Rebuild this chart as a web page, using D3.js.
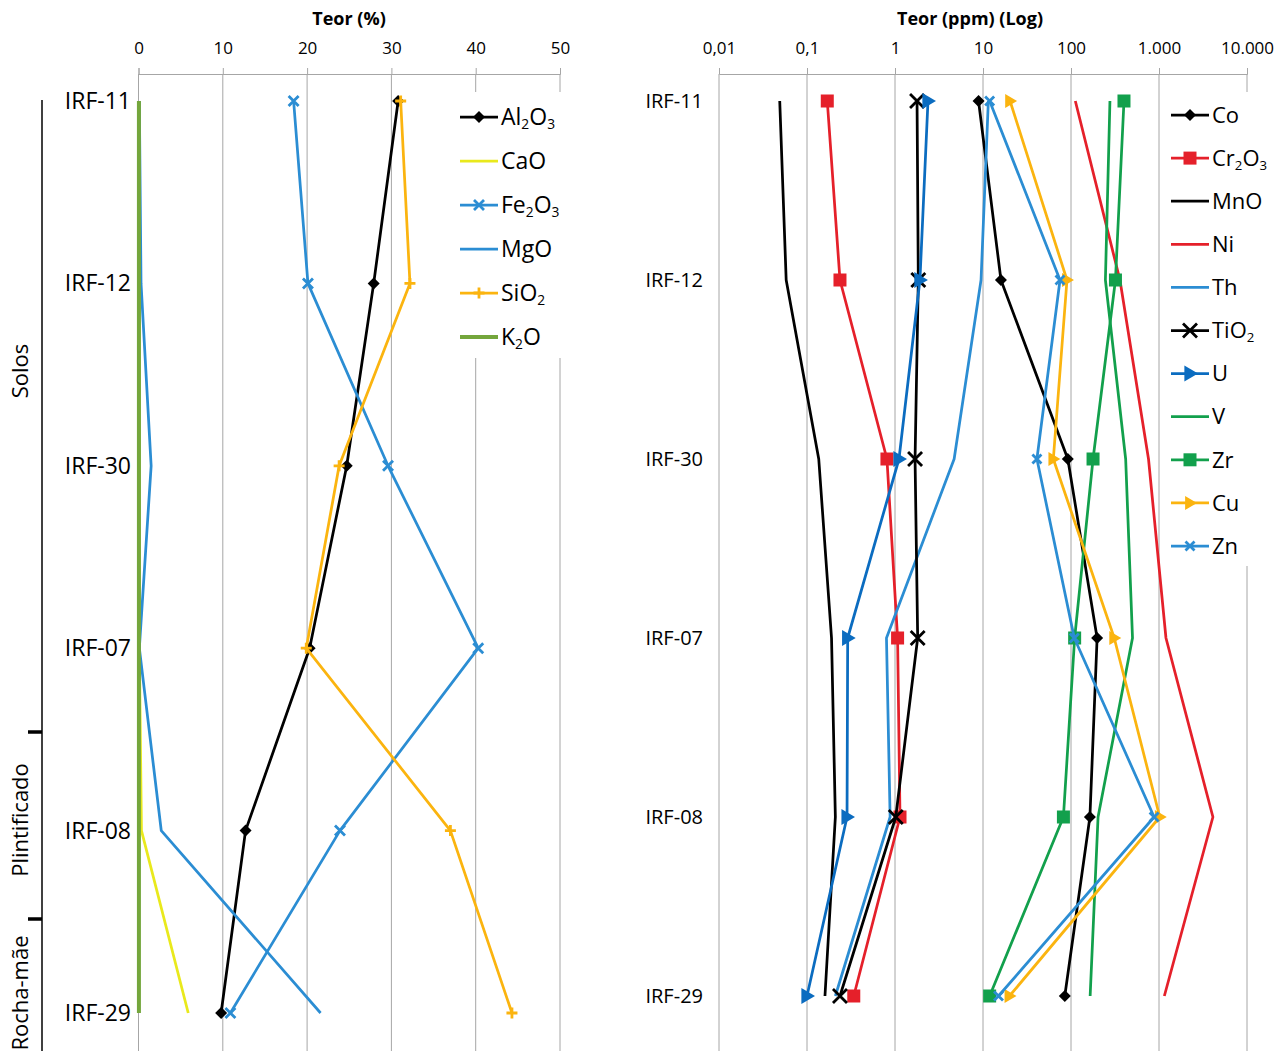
<!DOCTYPE html>
<html>
<head>
<meta charset="utf-8">
<script src="https://cdn.jsdelivr.net/npm/d3@7"></script>
<style>
  body { margin: 0; background: #fff; }
  text { font-family: "Open Sans", sans-serif; fill: #000; }
</style>
</head>
<body>
<div id="chart"></div>
<script>
////////////////////////////////////////////////////////////////
// Data

var samples = ["IRF-11", "IRF-12", "IRF-30", "IRF-07", "IRF-08", "IRF-29"];

// Teor (%)
var al2o3 = [30.8, 27.9, 24.7, 20.3, 12.7, 9.8];
var cao   = [0.1, 0.1, 0.1, 0.1, 0.35, 5.9];
var fe2o3 = [18.4, 20.1, 29.6, 40.3, 23.9, 10.9];
var mgo   = [0.1, 0.3, 1.5, 0.1, 2.7, 21.6];
var sio2  = [31.1, 32.2, 23.8, 19.9, 37.0, 44.3];
var k2o   = [0.05, 0.05, 0.05, 0.05, 0.05, 0.05];

// Teor (ppm)
var co    = [8.9, 16, 92, 198, 164, 85];
var cr2o3 = [0.17, 0.237, 0.81, 1.07, 1.14, 0.34];
var mno   = [0.049, 0.058, 0.136, 0.19, 0.21, 0.16];
var ni    = [112, 360, 760, 1200, 4100, 1150];
var th    = [11.5, 9.5, 4.7, 0.8, 0.88, 0.21];
var tio2  = [1.78, 1.84, 1.69, 1.81, 1.02, 0.237];
var u     = [2.37, 1.92, 1.11, 0.29, 0.285, 0.1];
var v     = [277, 246, 418, 500, 203, 165];
var zr    = [400, 320, 178, 110, 82, 11.9];
var cu    = [20.3, 90, 63, 310, 1020, 20];
var zn    = [11.9, 75, 41, 109, 880, 15];

var leftTicks = [0, 10, 20, 30, 40, 50];
var rightTicks = [0.01, 0.1, 1, 10, 100, 1000, 10000];
var rightTickLabels = ["0,01", "0,1", "1", "10", "100", "1.000", "10.000"];

var zones = ["Solos", "Plintificado", "Rocha-mãe"];

////////////////////////////////////////////////////////////////
// Series styling

var black = "#000000", yellow = "#e9e91c", blue = "#2b8dd3", dblue = "#0b6cc0",
    orange = "#fbb40f", green = "#74a63c", red = "#e5202a", vgreen = "#12a04c";

var leftSeries = [
  { name: ["Al", "2", "O", "3"], values: al2o3, color: black, marker: "diamond", ms: 6 },
  { name: ["CaO"], values: cao, color: yellow, marker: null },
  { name: ["Fe", "2", "O", "3"], values: fe2o3, color: blue, marker: "x", ms: 5 },
  { name: ["MgO"], values: mgo, color: blue, marker: null },
  { name: ["SiO", "2"], values: sio2, color: orange, marker: "plus", ms: 5.5 },
  { name: ["K", "2", "O"], values: k2o, color: green, marker: null, width: 4 }
];

var rightSeries = [
  { name: ["Co"], values: co, color: black, marker: "diamond", ms: 6 },
  { name: ["Cr", "2", "O", "3"], values: cr2o3, color: red, marker: "square", ms: 6.5 },
  { name: ["MnO"], values: mno, color: black, marker: null },
  { name: ["Ni"], values: ni, color: red, marker: null },
  { name: ["Th"], values: th, color: blue, marker: null },
  { name: ["TiO", "2"], values: tio2, color: black, marker: "x", ms: 7 },
  { name: ["U"], values: u, color: dblue, marker: "tri", ms: 8 },
  { name: ["V"], values: v, color: vgreen, marker: null },
  { name: ["Zr"], values: zr, color: vgreen, marker: "square", ms: 6.5 },
  { name: ["Cu"], values: cu, color: orange, marker: "tri", ms: 7 },
  { name: ["Zn"], values: zn, color: blue, marker: "x", ms: 4.5 }
];

////////////////////////////////////////////////////////////////
// SVG

var svgWidth = 1274, svgHeight = 1051;
var svg = d3.select("#chart").append("svg")
    .attr("width", svgWidth)
    .attr("height", svgHeight);

var axisY = 74, gridBottom = 1051, gridColor = "#a6a6a6", lineW = 2.75;

function drawMarker(g, type, x, y, r, color) {
  if (type === "diamond") {
    g.append("path").attr("d", `M${x},${y - r}L${x + r},${y}L${x},${y + r}L${x - r},${y}Z`).attr("fill", color);
  } else if (type === "square") {
    g.append("rect").attr("x", x - r).attr("y", y - r).attr("width", 2 * r).attr("height", 2 * r).attr("fill", color);
  } else if (type === "tri") {
    g.append("path").attr("d", `M${x + r},${y}L${x - r * 0.7},${y - r}L${x - r * 0.7},${y + r}Z`).attr("fill", color);
  } else if (type === "x") {
    g.append("path").attr("d", `M${x - r},${y - r}L${x + r},${y + r}M${x - r},${y + r}L${x + r},${y - r}`)
      .attr("stroke", color).attr("stroke-width", 2.8).attr("fill", "none");
  } else if (type === "plus") {
    g.append("path").attr("d", `M${x - r},${y}L${x + r},${y}M${x},${y - r}L${x},${y + r}`)
      .attr("stroke", color).attr("stroke-width", 2.8).attr("fill", "none");
  }
}

function drawPanel(opts) {
  var g = svg.append("g");
  var x = opts.x, y = opts.y;

  // gridlines
  g.selectAll(".grid").data(opts.ticks).enter().append("line")
    .attr("x1", d => x(d)).attr("x2", d => x(d))
    .attr("y1", axisY).attr("y2", gridBottom)
    .attr("stroke", gridColor).attr("stroke-width", 1);

  // top axis
  var axis = d3.axisTop(x).tickValues(opts.ticks).tickSize(6).tickPadding(14)
    .tickFormat((d, i) => opts.tickLabels[i]);
  var ax = g.append("g").attr("transform", `translate(0,${axisY})`).call(axis);
  ax.select(".domain").attr("stroke", gridColor);
  ax.selectAll(".tick line").attr("stroke", gridColor);
  ax.selectAll(".tick text").attr("font-size", 17).attr("font-family", "Open Sans").attr("fill", "#000");

  // title
  g.append("text").attr("x", opts.titleX).attr("y", 25)
    .attr("text-anchor", "middle").attr("font-size", 18).attr("font-weight", "bold")
    .text(opts.title);

  // row labels
  g.selectAll(".rowlab").data(samples).enter().append("text")
    .attr("x", opts.labelX).attr("y", d => y(d))
    .attr("dy", "0.35em").attr("text-anchor", "end")
    .attr("font-size", opts.labelSize)
    .text(d => d);

  // legend background (hides gridlines)
  var lg = opts.legend;
  g.append("rect").attr("x", lg.x).attr("y", lg.y).attr("width", lg.w).attr("height", lg.h).attr("fill", "#fff");

  // series
  var line = d3.line().x(d => x(d.v)).y(d => y(d.s));
  opts.series.forEach(function (s) {
    var pts = s.values.map((val, i) => ({ v: val, s: samples[i] }));
    g.append("path").datum(pts).attr("d", line)
      .attr("fill", "none").attr("stroke", s.color)
      .attr("stroke-width", s.width || lineW).attr("stroke-linejoin", "round");
    if (s.marker) {
      pts.forEach(p => drawMarker(g, s.marker, x(p.v), y(p.s), s.ms, s.color));
    }
  });

  // legend entries
  opts.series.forEach(function (s, i) {
    var ly = lg.first + i * lg.step;
    g.append("line").attr("x1", lg.lx0).attr("x2", lg.lx1).attr("y1", ly).attr("y2", ly)
      .attr("stroke", s.color).attr("stroke-width", s.width || lineW);
    if (s.marker) drawMarker(g, s.marker, (lg.lx0 + lg.lx1) / 2, ly, s.ms, s.color);
    var t = g.append("text").attr("x", lg.lx1 + 3).attr("y", ly).attr("dy", "0.35em")
      .attr("font-size", lg.size);
    s.name.forEach(function (part, k) {
      var sub = k % 2 === 1;
      t.append("tspan").text(part)
        .attr("font-size", sub ? lg.size * 0.6 : lg.size)
        .attr("dy", sub ? "0.3em" : (k > 0 ? "-0.18em" : null));
    });
  });
}

////////////////////////////////////////////////////////////////
// Left panel: Teor (%)

var xLeft = d3.scaleLinear().domain([0, 50]).range([138.5, 560]);
var yLeft = d3.scalePoint().domain(samples).range([101, 1013]);

drawPanel({
  x: xLeft, y: yLeft, ticks: leftTicks, tickLabels: leftTicks.map(String),
  title: "Teor (%)", titleX: 349, labelX: 131, labelSize: 23,
  series: leftSeries,
  legend: { x: 452, y: 92, w: 126, h: 266, first: 117, step: 44, lx0: 460, lx1: 498, size: 23 }
});

////////////////////////////////////////////////////////////////
// Right panel: Teor (ppm) (Log)

var xRight = d3.scaleLog().domain([0.01, 10000]).range([719, 1247]);
var yRight = d3.scalePoint().domain(samples).range([101, 996]);

drawPanel({
  x: xRight, y: yRight, ticks: rightTicks, tickLabels: rightTickLabels,
  title: "Teor (ppm) (Log)", titleX: 970, labelX: 703, labelSize: 20,
  series: rightSeries,
  legend: { x: 1163, y: 92, w: 111, h: 474, first: 115, step: 43.1, lx0: 1171, lx1: 1209, size: 22 }
});

////////////////////////////////////////////////////////////////
// Zone bracket on the left

var zoneScale = d3.scaleOrdinal().domain(zones).range([371, 820, 993]);
var bracket = svg.append("g");
bracket.append("line").attr("x1", 42).attr("x2", 42).attr("y1", 100).attr("y2", gridBottom)
  .attr("stroke", "#000").attr("stroke-width", 1.5);
[732, 919].forEach(function (ty) {
  bracket.append("line").attr("x1", 28).attr("x2", 42).attr("y1", ty).attr("y2", ty)
    .attr("stroke", "#000").attr("stroke-width", 3.5);
});
bracket.selectAll(".zone").data(zones).enter().append("text")
  .attr("transform", d => `translate(28,${zoneScale(d)}) rotate(-90)`)
  .attr("text-anchor", "middle").attr("font-size", 22)
  .text(d => d);
</script>
</body>
</html>
